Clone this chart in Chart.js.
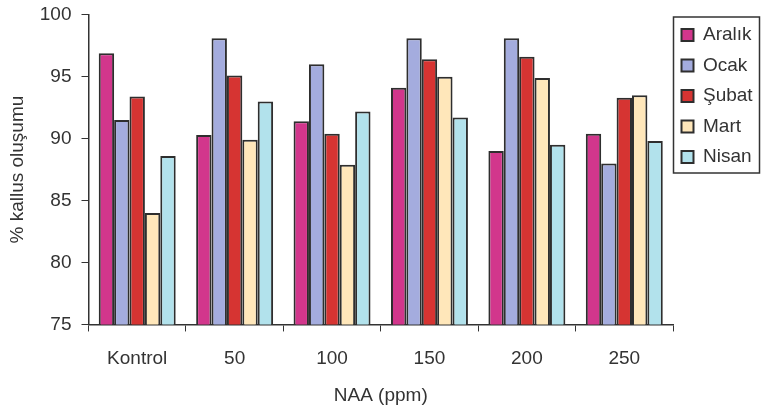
<!DOCTYPE html>
<html>
<head>
<meta charset="utf-8">
<script src="https://cdn.jsdelivr.net/npm/chart.js@4"></script>
<style>
  html, body { margin: 0; padding: 0; background: #fff; }
  #wrap { width: 761px; height: 408px; }
</style>
</head>
<body>
<div id="wrap"><canvas id="myChart"></canvas></div>
<script>
const categories = ['Kontrol', '50', '100', '150', '200', '250'];

const aralik = [96.9, 90.3, 91.4, 94.1, 89.0, 90.4];
const ocak   = [91.5, 98.1, 96.0, 98.1, 98.1, 88.0];
const subat  = [93.4, 95.1, 90.4, 96.4, 96.6, 93.3];
const mart   = [84.0, 89.9, 87.9, 95.0, 94.9, 93.5];
const nisan  = [88.6, 93.0, 92.2, 91.7, 89.5, 89.8];

const COLORS = {
    aralik: 'rgb(210, 54, 140)',
    ocak: 'rgb(164, 172, 222)',
    subat: 'rgb(214, 52, 50)',
    mart: 'rgb(255, 231, 186)',
    nisan: 'rgb(178, 226, 236)',
    edge: '#2e2e2e'
};

const FONT = 'Liberation Sans, Arial, sans-serif';

function makeSet(label, values, color) {
    return {
        label: label,
        data: values,
        backgroundColor: color,
        borderColor: COLORS.edge,
        borderWidth: 2,
        borderSkipped: false,
        categoryPercentage: 0.79,
        barPercentage: 1.0
    };
}

// frame round the legend, like the old spreadsheet look
const legendFrame = {
    id: 'legendFrame',
    afterLayout(chart) {
        // pull the legend items a bit closer to the frame edge
        chart.legend.left -= 3;
    },
    afterDraw(chart) {
        const lg = chart.legend;
        const boxes = lg.legendHitBoxes;
        if (!boxes || !boxes.length) return;
        const ctx = chart.ctx;
        const last = boxes[boxes.length - 1];
        const top = boxes[0].top - 8.5;
        const bottom = last.top + last.height + 6.5;
        ctx.save();
        ctx.strokeStyle = '#333';
        ctx.lineWidth = 1.5;
        ctx.strokeRect(chart.chartArea.right + 0.5, top, chart.width - chart.chartArea.right - 2, bottom - top);
        ctx.restore();
    }
};

const data = {
    labels: categories,
    datasets: [
        makeSet('Aralık', aralik, COLORS.aralik),
        makeSet('Ocak', ocak, COLORS.ocak),
        makeSet('Şubat', subat, COLORS.subat),
        makeSet('Mart', mart, COLORS.mart),
        makeSet('Nisan', nisan, COLORS.nisan)
    ]
};

const config = {
    type: 'bar',
    data: data,
    options: {
        responsive: true,
        maintainAspectRatio: false,
        animation: false,
        layout: {
            padding: { top: 2, right: 0, bottom: 0, left: 0 }
        },
        plugins: {
            legend: {
                position: 'right',
                align: 'start',
                maxWidth: 88,
                // empty title only pushes the items down a little
                title: {
                    display: true,
                    text: '',
                    font: { size: 1 },
                    padding: { top: 10.8, bottom: 0 }
                },
                labels: {
                    boxWidth: 12,
                    boxHeight: 12,
                    padding: 11.5,
                    color: '#333',
                    font: { family: FONT, size: 19 }
                }
            },
            tooltip: { enabled: false }
        },
        scales: {
            x: {
                grid: {
                    drawOnChartArea: false,
                    drawTicks: true,
                    tickLength: 7,
                    tickColor: '#333',
                    offset: true
                },
                border: { display: true, color: '#333', width: 1.5 },
                ticks: {
                    padding: 15.5,
                    color: '#333',
                    font: { family: FONT, size: 19 }
                },
                title: {
                    display: true,
                    text: 'NAA (ppm)',
                    color: '#333',
                    padding: { top: 6, bottom: 7.25 },
                    font: { family: FONT, size: 19, lineHeight: 0.5 }
                }
            },
            y: {
                min: 75,
                max: 100,
                grid: {
                    drawOnChartArea: false,
                    drawTicks: true,
                    tickLength: 7,
                    tickColor: '#333'
                },
                border: { display: true, color: '#333', width: 1.5 },
                ticks: {
                    stepSize: 5,
                    padding: 10,
                    color: '#333',
                    font: { family: FONT, size: 19, lineHeight: 0.5 }
                },
                title: {
                    display: true,
                    text: '% kallus oluşumu',
                    color: '#333',
                    padding: { top: 6, bottom: 1 },
                    font: { family: FONT, size: 19 }
                }
            }
        }
    },
    plugins: [legendFrame]
};

const myChart = new Chart(
    document.getElementById('myChart'),
    config
);
</script>
</body>
</html>
